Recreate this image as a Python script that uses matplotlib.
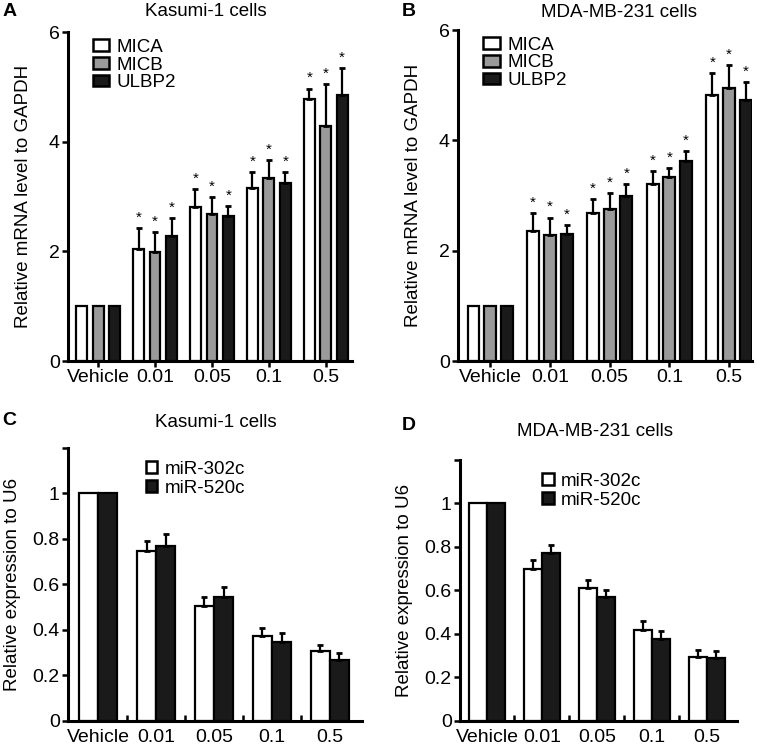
import numpy as np
import matplotlib
matplotlib.use('Agg')
import matplotlib.pyplot as plt
from matplotlib.patches import Patch

plt.rcParams['font.family'] = ['Liberation Sans', 'DejaVu Sans']

# x categories (dose)
groups = ['Vehicle', '0.01', '0.05', '0.1', '0.5']

# Panel A - Kasumi-1, mRNA level relative to GAPDH
a_mica = [1.0, 2.05, 2.81, 3.16, 4.77]
a_mica_err = [0.0, 0.37, 0.32, 0.29, 0.20]
a_micb = [1.0, 1.98, 2.68, 3.34, 4.28]
a_micb_err = [0.0, 0.38, 0.31, 0.32, 0.77]
a_ulbp2 = [1.0, 2.28, 2.64, 3.24, 4.85]
a_ulbp2_err = [0.0, 0.32, 0.18, 0.20, 0.49]

# Panel B - MDA-MB-231, mRNA level relative to GAPDH
b_mica = [1.0, 2.35, 2.68, 3.20, 4.83]
b_mica_err = [0.0, 0.34, 0.26, 0.25, 0.39]
b_micb = [1.0, 2.29, 2.76, 3.33, 4.95]
b_micb_err = [0.0, 0.31, 0.28, 0.16, 0.42]
b_ulbp2 = [1.0, 2.31, 2.99, 3.63, 4.73]
b_ulbp2_err = [0.0, 0.16, 0.22, 0.18, 0.33]

# Panel C - Kasumi-1, miRNA relative to U6
c_302c = [1.0, 0.749, 0.507, 0.375, 0.307]
c_302c_err = [0.0, 0.041, 0.036, 0.035, 0.027]
c_520c = [1.0, 0.768, 0.546, 0.349, 0.268]
c_520c_err = [0.0, 0.052, 0.041, 0.036, 0.032]

# Panel D - MDA-MB-231, miRNA relative to U6
d_302c = [1.0, 0.698, 0.612, 0.419, 0.294]
d_302c_err = [0.0, 0.044, 0.038, 0.041, 0.034]
d_520c = [1.0, 0.773, 0.569, 0.379, 0.291]
d_520c_err = [0.0, 0.038, 0.032, 0.034, 0.031]

fig = plt.figure(figsize=(7.61, 7.51), dpi=100)

x = np.arange(len(groups))
edge = dict(edgecolor='black', linewidth=1.6)
ebar = dict(ecolor='black', elinewidth=1.6, capsize=2.5, capthick=2)


def style_axes(ax):
    for s in ['top', 'right']:
        ax.spines[s].set_visible(False)
    for s in ['left', 'bottom']:
        ax.spines[s].set_linewidth(2.2)
    ax.tick_params(axis='both', labelsize=14, width=1.8, length=4, pad=2)


def mrna_panel(ax, series, errs, offs, width, xlim):
    colors = ['white', '#9a9a9a', '#1a1a1a']
    names = ['MICA', 'MICB', 'ULBP2']
    for vals, err, off, c, n in zip(series, errs, offs, colors, names):
        pos = x + off
        ax.bar(pos, vals, width, color=c, label=n, **edge)
        ax.errorbar(pos[1:], vals[1:], yerr=[np.zeros(4), err[1:]],
                    fmt='none', **ebar)
        for p, v, e in zip(pos[1:], vals[1:], err[1:]):
            ax.text(p, v + e + 0.06, '*', ha='center', va='bottom', fontsize=11)
    ax.set_xlim(*xlim)
    ax.set_ylim(0, 6)
    ax.set_yticks([0, 2, 4, 6])
    ax.set_xticks(x)
    ax.set_xticklabels(groups)
    ax.set_ylabel('Relative mRNA level to GAPDH', fontsize=13.5, labelpad=12)
    style_axes(ax)
    handles = [Patch(facecolor=c, edgecolor='black', linewidth=1.8) for c in colors]
    ax.legend(handles, names, loc='upper left', bbox_to_anchor=(0.06, 1.003),
              frameon=False, fontsize=13.5, handlelength=0.9, handleheight=0.55,
              labelspacing=0.05, handletextpad=0.4, borderaxespad=0)


def mir_panel(ax, series, errs, width, xlim, leg_x):
    colors = ['white', '#1a1a1a']
    names = ['miR-302c', 'miR-520c']
    offs = [-width / 2, width / 2]
    for vals, err, off, c, n in zip(series, errs, offs, colors, names):
        pos = x + off
        ax.bar(pos, vals, width, color=c, label=n, **edge)
        ax.errorbar(pos[1:], vals[1:], yerr=[np.zeros(4), err[1:]],
                    fmt='none', **ebar)
    ax.set_xlim(*xlim)
    ax.set_ylim(0, 1.2)
    ax.set_yticks([0, 0.2, 0.4, 0.6, 0.8, 1.0, 1.2])
    ax.set_yticklabels(['0', '0.2', '0.4', '0.6', '0.8', '1', ''])
    ax.set_xticks(x)
    ax.set_xticklabels(groups)
    ax.set_xticks(x[:-1] + 0.5, minor=True)
    ax.set_ylabel('Relative expression to U6', fontsize=13.5, labelpad=8)
    style_axes(ax)
    ax.tick_params(axis='x', which='major', length=0, pad=6)
    ax.tick_params(axis='x', which='minor', direction='in', length=4, width=1.8)
    handles = [Patch(facecolor=c, edgecolor='black', linewidth=1.8) for c in colors]
    ax.legend(handles, names, loc='upper left', bbox_to_anchor=(leg_x, 0.98),
              frameon=False, fontsize=13.5, handlelength=0.6, handleheight=0.6,
              labelspacing=0.1, handletextpad=0.4, borderaxespad=0)


axA = fig.add_axes([0.0894, 0.5193, 0.373, 0.438])
mrna_panel(axA, [a_mica, a_micb, a_ulbp2], [a_mica_err, a_micb_err, a_ulbp2_err],
           [-0.29, 0, 0.29], 0.19, (-0.53, 4.46))

axB = fig.add_axes([0.6018, 0.5193, 0.386, 0.4407])
mrna_panel(axB, [b_mica, b_micb, b_ulbp2], [b_mica_err, b_micb_err, b_ulbp2_err],
           [-0.28, 0, 0.28], 0.2, (-0.54, 4.38))

axC = fig.add_axes([0.0894, 0.040, 0.386, 0.3635])
mir_panel(axC, [c_302c, c_520c], [c_302c_err, c_520c_err], 0.33, (-0.52, 4.55), 0.24)

axD = fig.add_axes([0.6045, 0.040, 0.364, 0.3475])
mir_panel(axD, [d_302c, d_520c], [d_302c_err, d_520c_err], 0.33, (-0.49, 4.55), 0.27)

# titles and panel letters
fig.text(0.27, 0.985, 'Kasumi-1 cells', ha='center', va='center', fontsize=13.5)
fig.text(0.813, 0.983, 'MDA-MB-231 cells', ha='center', va='center', fontsize=13.5)
fig.text(0.284, 0.437, 'Kasumi-1 cells', ha='center', va='center', fontsize=13.5)
fig.text(0.782, 0.425, 'MDA-MB-231 cells', ha='center', va='center', fontsize=13.5)
fig.text(0.003, 0.985, 'A', ha='left', va='center', fontsize=14, fontweight='bold')
fig.text(0.528, 0.985, 'B', ha='left', va='center', fontsize=14, fontweight='bold')
fig.text(0.003, 0.44, 'C', ha='left', va='center', fontsize=14, fontweight='bold')
fig.text(0.528, 0.434, 'D', ha='left', va='center', fontsize=14, fontweight='bold')

fig.savefig('out.png', dpi=100)
